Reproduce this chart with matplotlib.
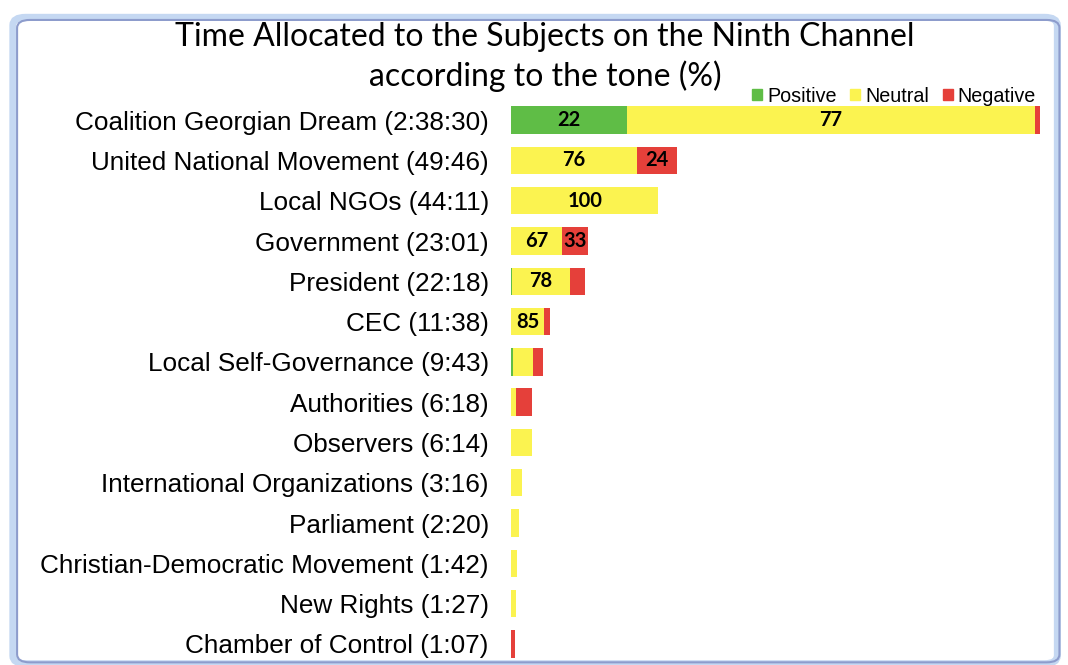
import numpy as np
import matplotlib
matplotlib.use('Agg')
import matplotlib.pyplot as plt
from matplotlib.patches import FancyBboxPatch, Patch

# subjects and allocated time (h:m:s)
subjects = ['Coalition Georgian Dream (2:38:30)', 'United National Movement (49:46)',
            'Local NGOs (44:11)', 'Government (23:01)', 'President (22:18)', 'CEC (11:38)',
            'Local Self-Governance (9:43)', 'Authorities (6:18)', 'Observers (6:14)',
            'International Organizations (3:16)', 'Parliament (2:20)',
            'Christian-Democratic Movement (1:42)', 'New Rights (1:27)',
            'Chamber of Control (1:07)']
times = ['2:38:30', '49:46', '44:11', '23:01', '22:18', '11:38', '9:43', '6:18',
         '6:14', '3:16', '2:20', '1:42', '1:27', '1:07']

# tone shares (%)
positive = [22, 0, 0, 0, 1, 0, 5, 0, 0, 0, 0, 0, 0, 0]
neutral = [77, 76, 100, 67, 78, 85, 64, 25, 100, 100, 100, 100, 100, 0]
negative = [1, 24, 0, 33, 21, 15, 31, 75, 0, 0, 0, 0, 0, 100]

def to_sec(t):
    parts = [int(p) for p in t.split(':')]
    s = 0
    for p in parts:
        s = s * 60 + p
    return s

secs = np.array([to_sec(t) for t in times], dtype=float)
pos = np.array(positive) / 100.0 * secs
neu = np.array(neutral) / 100.0 * secs
neg = np.array(negative) / 100.0 * secs

c_pos = '#5fbd46'
c_neu = '#fbf350'
c_neg = '#e5403a'

fig = plt.figure(figsize=(10.68, 6.65), dpi=100)

# window-like frame
fig.patches.append(FancyBboxPatch((0.012, 0.002), 0.978, 0.972, boxstyle='round,pad=0,rounding_size=0.012',
                                  transform=fig.transFigure, facecolor='none',
                                  edgecolor='#c5d8f2', lw=5, zorder=-2))
fig.patches.append(FancyBboxPatch((0.016, 0.004), 0.976, 0.966, boxstyle='round,pad=0,rounding_size=0.012',
                                  transform=fig.transFigure, facecolor='none',
                                  edgecolor='#8d9ccc', lw=1.5, zorder=-1))

ax = fig.add_axes([511 / 1068, 1 - 664 / 665, (1040 - 511) / 1068, 564 / 665])
y = np.arange(len(subjects))
h = 0.68
ax.barh(y, pos, height=h, color=c_pos, label='Positive')
ax.barh(y, neu, left=pos, height=h, color=c_neu, label='Neutral')
ax.barh(y, neg, left=pos + neu, height=h, color=c_neg, label='Negative')

# value labels on the wider segments
for i in range(len(subjects)):
    left = 0
    for val, seg in [(positive[i], pos[i]), (neutral[i], neu[i]), (negative[i], neg[i])]:
        if seg > 420:
            ax.text(left + seg / 2, y[i], str(val), ha='center', va='center',
                    fontsize=14.5, fontweight='bold', family='Lato', color='black')
        left += seg

ax.set_xlim(0, secs.max())
ax.set_ylim(len(subjects) - 0.5, -0.5)
ax.set_yticks(y)
ax.set_yticklabels(subjects, family='Liberation Sans', fontsize=18.8)
ax.tick_params(axis='y', length=0, pad=16)
ax.set_xticks([])
for s in ax.spines.values():
    s.set_visible(False)
ax.patch.set_alpha(0)

fig.text(545 / 1068, 1 - 37 / 665, 'Time Allocated to the Subjects on the Ninth Channel',
         ha='center', va='center', fontsize=23, family='Lato')
fig.text(545 / 1068, 1 - 76 / 665, 'according to the tone (%)',
         ha='center', va='center', fontsize=23, family='Lato')

handles = [Patch(color=c_pos, label='Positive'), Patch(color=c_neu, label='Neutral'),
           Patch(color=c_neg, label='Negative')]
fig.legend(handles=handles, loc='center right', bbox_to_anchor=(1036 / 1068, 1 - 96 / 665),
           ncol=3, frameon=False, handlelength=0.5, handleheight=0.5, handletextpad=0.25,
           columnspacing=0.7, borderaxespad=0, borderpad=0,
           prop={'family': 'Liberation Sans', 'size': 14.2})

plt.savefig('out.png', dpi=100)
